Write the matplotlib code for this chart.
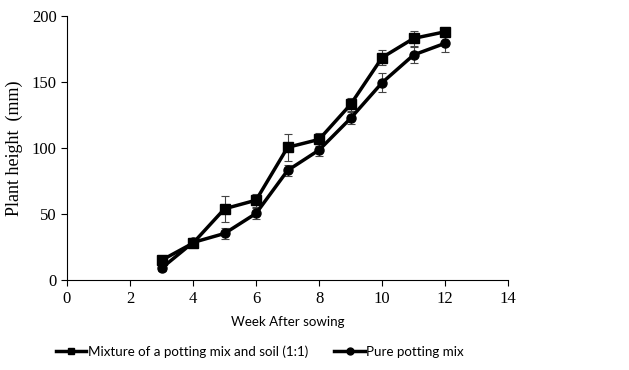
import matplotlib
matplotlib.use("Agg")
import matplotlib.pyplot as plt
from matplotlib.lines import Line2D

weeks = [3, 4, 5, 6, 7, 8, 9, 10, 11, 12]
mix = [15, 28, 54, 60.5, 100.5, 106.5, 133, 168.5, 183, 188]
mix_err = [2, 3, 10, 5, 10, 5, 5, 5.5, 5.5, 3]
pure = [9, 28.5, 35.3, 50.5, 83, 98.5, 122.5, 149.5, 170.5, 179.3]
pure_err = [2, 3, 4, 4, 4.5, 4.5, 4.5, 7, 6, 7]
labels = ["Mixture of a potting mix and soil (1:1)", "Pure potting mix"]

plt.rcParams['font.family'] = ['Liberation Serif', 'DejaVu Serif']
sans = ['Lato', 'DejaVu Sans']

fig = plt.figure(figsize=(6.29, 3.70), dpi=100)
ax = fig.add_axes([0.1065, 0.243, 0.7015, 0.714])

ax.errorbar(weeks, mix, yerr=mix_err, color='black', lw=2.5, marker='s', ms=6.5,
            ecolor='#444444', elinewidth=0.8, capsize=3, capthick=0.8)
ax.errorbar(weeks, pure, yerr=pure_err, color='black', lw=2.5, marker='o', ms=6.5,
            ecolor='#444444', elinewidth=0.8, capsize=3, capthick=0.8)

ax.set_xlim(0, 14)
ax.set_ylim(0, 200)
ax.set_xticks(range(0, 15, 2))
ax.set_yticks(range(0, 201, 50))
ax.spines['top'].set_visible(False)
ax.spines['right'].set_visible(False)
ax.tick_params(direction='out', length=4, width=0.8, labelsize=12)
ax.set_xlabel("Week After sowing", fontsize=9.6, family=sans, labelpad=7)
ax.set_ylabel("Plant height  (mm)", fontsize=13, labelpad=6)

handles = [Line2D([], [], color='black', lw=2.5, marker='s', ms=5),
           Line2D([], [], color='black', lw=2.5, marker='o', ms=5)]
fig.legend(handles, labels, loc='center', bbox_to_anchor=(0.413, 0.05), ncol=2, frameon=False,
           prop={'family': sans, 'size': 9.6},
           handlelength=2.3, handletextpad=0.1, columnspacing=2.0)

fig.savefig("out.png", dpi=100)
